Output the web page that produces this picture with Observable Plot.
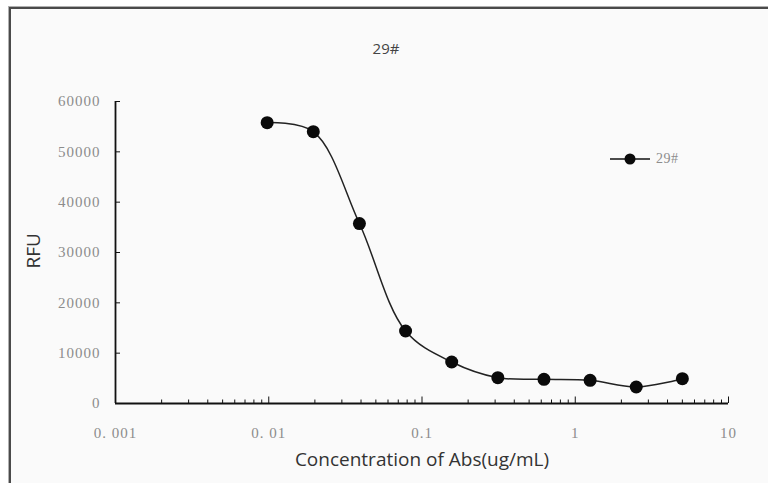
<!DOCTYPE html>
<html>
<head>
<meta charset="utf-8">
<script src="https://cdn.jsdelivr.net/npm/d3@7"></script>
<script src="https://cdn.jsdelivr.net/npm/@observablehq/plot@0.6"></script>
<style>
  html, body { margin: 0; padding: 0; background: #fff; overflow: hidden; width: 768px; height: 483px; }
  #frame { position: absolute; left: 9px; top: 7px; width: 820px; height: 540px;
           border-left: 2px solid #4a4a4a; border-top: 2px solid #4a4a4a; background: #fafafa;
           box-shadow: -1px -1px 0 #b0b0b0; }
  #chart { position: absolute; left: 0; top: 0; }
  #chart g[aria-label="y-axis tick label"] text,
  #chart g[aria-label="x-axis tick label"] text { letter-spacing: 1px; }
  #legend { position: absolute; left: 609px; top: 151px; display: flex; align-items: center;
            font-family: "Liberation Serif", serif; font-size: 14px; color: #8c8c8c; letter-spacing: 0.5px; }
  #legend span { margin-left: 5px; }
</style>
</head>
<body>
<div id="frame"></div>
<div id="chart"></div>
<div id="legend"></div>
<script>
// ---- data ----
const concentrations = [0.009765625, 0.01953125, 0.0390625, 0.078125, 0.15625, 0.3125, 0.625, 1.25, 2.5, 5];
const rfu = [55800, 54000, 35750, 14400, 8250, 5130, 4810, 4610, 3280, 4930];
const seriesName = "29#";
const yTicks = [0, 10000, 20000, 30000, 40000, 50000, 60000];
const xMajorTicks = [0.001, 0.01, 0.1, 1, 10];
const xTickLabels = ["0. 001", "0. 01", "0.1", "1", "10"];
const xMinorTicks = [0.002, 0.003, 0.004, 0.005, 0.006, 0.007, 0.008, 0.009,
                     0.02, 0.03, 0.04, 0.05, 0.06, 0.07, 0.08, 0.09,
                     0.2, 0.3, 0.4, 0.5, 0.6, 0.7, 0.8, 0.9,
                     2, 3, 4, 5, 6, 7, 8, 9];
const titleText = "29#";
const xLabel = "Concentration of Abs(ug/mL)";
const yLabel = "RFU";

const data = concentrations.map((c, i) => ({c, v: rfu[i]}));

const tickFont = "Liberation Serif";
const labelFont = "Open Sans";

const chart = Plot.plot({
  width: 768,
  height: 483,
  marginLeft: 115,
  marginRight: 40,
  marginTop: 101,
  marginBottom: 80,
  style: {background: "transparent", overflow: "visible", fontFamily: tickFont},
  x: {type: "log", domain: [0.001, 10]},
  y: {domain: [0, 60000]},
  marks: [
    Plot.axisY({ticks: yTicks, tickSize: -5, tickPadding: 20, tickFormat: d => String(d),
                label: null, stroke: "#111", fill: "#8c8c8c", fontSize: 15, fontFamily: tickFont}),
    Plot.axisX({ticks: xMajorTicks, tickSize: -6.5, tickPadding: 30,
                tickFormat: d => xTickLabels[xMajorTicks.indexOf(d)], label: null,
                stroke: "#111", fill: "#8c8c8c", fontSize: 15, fontFamily: tickFont}),
    Plot.axisX({ticks: xMinorTicks, tickSize: -3.5, tickFormat: () => "", label: null, stroke: "#111"}),
    Plot.ruleY([0], {stroke: "#111", strokeWidth: 1.8}),
    Plot.ruleX([0.001], {stroke: "#111", strokeWidth: 1.8}),
    Plot.line(data, {x: "c", y: "v", curve: "catmull-rom", stroke: "#222", strokeWidth: 1.5}),
    Plot.dot(data, {x: "c", y: "v", r: 6.5, fill: "#0a0a0a"}),
    Plot.text([titleText], {frameAnchor: "top", dx: -36, dy: -58, fontSize: 15, fontFamily: labelFont, fill: "#444"}),
    Plot.text([xLabel], {frameAnchor: "bottom", dy: 62, fontSize: 19, fontFamily: labelFont, fill: "#333"}),
    Plot.text([yLabel], {frameAnchor: "left", dx: -82, dy: 16, rotate: -90, fontSize: 19, fontFamily: labelFont, fill: "#333"})
  ]
});
document.getElementById("chart").appendChild(chart);

// legend
const lg = document.getElementById("legend");
lg.innerHTML = `<svg width="42" height="16"><line x1="1" y1="8" x2="41" y2="8" stroke="#111" stroke-width="1.5"/><circle cx="21" cy="8" r="5.5" fill="#0a0a0a"/></svg><span>${seriesName}</span>`;
</script>
</body>
</html>
